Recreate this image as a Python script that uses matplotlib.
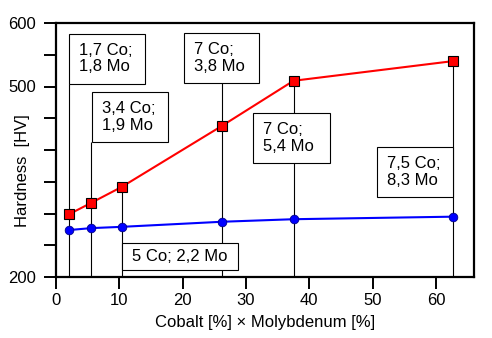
import matplotlib
matplotlib.use("Agg")
import matplotlib.pyplot as plt
from matplotlib.patches import Rectangle

# Product of cobalt and molybdenum content for each alloy
x_product = [2.1, 5.6, 10.4, 26.2, 37.5, 62.7]
hardness_red = [299, 317, 342, 438, 509, 540]
hardness_blue = [274, 277, 279, 287, 291, 295]
alloy_labels = ["1,7 Co;\n1,8 Mo", "3,4 Co;\n1,9 Mo", "5 Co; 2,2 Mo",
                "7 Co;\n3,8 Mo", "7 Co;\n5,4 Mo", "7,5 Co;\n8,3 Mo"]
x_ticks = [0, 10, 20, 30, 40, 50, 60]
y_ticks = [200, 250, 300, 350, 400, 450, 500, 550, 600]
y_tick_labels = ["200", "", "", "", "", "", "500", "", "600"]

# Label boxes: (left, bottom, width, height) in data units
boxes = [
    (2.05, 504, 12.0, 79),
    (5.68, 412.6, 12.0, 79),
    (10.42, 211, 18.3, 42.5),
    (20.2, 505.5, 11.9, 79),
    (31.1, 379.5, 12.2, 79),
    (50.7, 326, 12.0, 79),
]

plt.rcParams["font.family"] = ["Liberation Sans", "DejaVu Sans"]

fig = plt.figure(figsize=(4.92, 3.38), dpi=100)
ax = fig.add_axes([56 / 492, 1 - 277 / 338, (474 - 56) / 492, (277 - 23) / 338])
ax.set_xlim(0, 66)
ax.set_ylim(200, 600)

# Drop lines from the x axis up to each point or its label box
for xv, hv, (bx, by, bw, bh) in zip(x_product, hardness_red, boxes):
    top = max(hv, by)
    ax.vlines(xv, 200, top, color="black", lw=0.8, zorder=2)

# Label boxes
for (bx, by, bw, bh), txt in zip(boxes, alloy_labels):
    ax.add_patch(Rectangle((bx, by), bw, bh, facecolor="white",
                           edgecolor="black", lw=0.8, zorder=3))
    if "\n" in txt:
        ax.text(bx + 1.55, by + bh / 2, txt, ha="left", va="center",
                fontsize=12, linespacing=1.1, zorder=4)
    else:
        ax.text(bx + bw / 2, by + bh / 2, txt, ha="center", va="center",
                fontsize=12, zorder=4)

ax.plot(x_product, hardness_red, color="#ff0000", lw=1.5, marker="s",
        markersize=6.8, markerfacecolor="#ff0000", markeredgecolor="black",
        markeredgewidth=0.8, zorder=5)
ax.plot(x_product, hardness_blue, color="#0000ff", lw=1.5, marker="o",
        markersize=6.2, markerfacecolor="#0000ff", markeredgecolor="#00008b",
        markeredgewidth=0.6, zorder=5)

ax.set_xticks(x_ticks)
ax.set_yticks(y_ticks)
ax.set_yticklabels(y_tick_labels)
ax.tick_params(axis="both", direction="out", length=8.5, width=1.4,
               labelsize=12, colors="black")
ax.tick_params(axis="y", pad=6)
ax.tick_params(axis="x", pad=3)
for sp in ax.spines.values():
    sp.set_linewidth(1.6)

ax.set_xlabel("Cobalt [%] \u00d7 Molybdenum [%]", fontsize=12, labelpad=5)
ylab = ax.set_ylabel("Hardness  [HV]", fontsize=12)
ax.yaxis.set_label_coords(-0.081, 0.42)
ylab.set_va("center")

fig.savefig("out.png", dpi=100)
